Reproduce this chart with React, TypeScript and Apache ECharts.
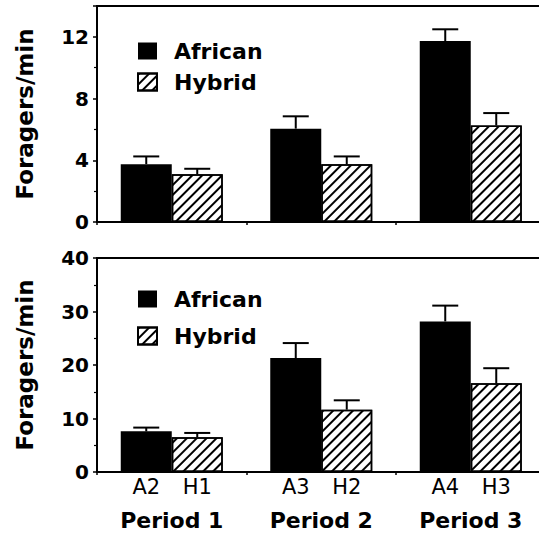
import React, { useEffect, useRef } from "react";
import * as echarts from "echarts";

const periods = ["Period 1", "Period 2", "Period 3"];
const africanLabels = ["A2", "A3", "A4"];
const hybridLabels = ["H1", "H2", "H3"];

const topAfrican = [3.75, 6.05, 11.73];
const topAfricanErr = [0.5, 0.8, 0.76];
const topHybrid = [3.1, 3.75, 6.26];
const topHybridErr = [0.35, 0.5, 0.8];

const bottomAfrican = [7.6, 21.3, 28.15];
const bottomAfricanErr = [0.7, 2.8, 2.95];
const bottomHybrid = [6.5, 11.65, 16.6];
const bottomHybridErr = [0.8, 1.75, 2.8];

const topAxis = { min: 0, max: 14, interval: 4 };
const bottomAxis = { min: 0, max: 40, interval: 10 };

const BAR_W = 51;
const CAP_HALF = 13;

function errRenderer(side: number) {
  return (params: any, api: any) => {
    const i = api.value(0);
    const v = api.value(1);
    const e = api.value(2);
    const base = api.coord([i, v]);
    const top = api.coord([i, v + e]);
    const cx = base[0] + (side * BAR_W) / 2;
    return {
      type: "group",
      children: [
        {
          type: "line",
          shape: { x1: cx, y1: base[1], x2: cx, y2: top[1] },
          style: { stroke: "#000", lineWidth: 2 },
        },
        {
          type: "line",
          shape: { x1: cx - CAP_HALF, y1: top[1], x2: cx + CAP_HALF, y2: top[1] },
          style: { stroke: "#000", lineWidth: 2 },
        },
      ],
    };
  };
}

const hatch = {
  symbol: "rect",
  symbolSize: 1,
  color: "#000",
  dashArrayX: [1, 0],
  dashArrayY: [1.4, 4.6],
  rotation: -Math.PI / 4,
};

function yAxisCfg(gridIndex: number, ax: any) {
  return {
    type: "value",
    gridIndex,
    min: ax.min,
    max: ax.max,
    interval: ax.interval,
    name: "Foragers/min",
    nameLocation: "middle",
    nameGap: 61,
    nameTextStyle: {
      fontFamily: "DejaVu Sans",
      fontWeight: "bold",
      fontSize: 23,
      color: "#000",
    },
    axisLine: { show: true, lineStyle: { color: "#000", width: 2 } },
    axisTick: { show: true, length: 4, lineStyle: { color: "#000", width: 1.5 } },
    minorTick: { show: true, splitNumber: 2, length: 3, lineStyle: { color: "#000", width: 1.2 } },
    splitLine: { show: false },
    axisLabel: {
      showMaxLabel: gridIndex === 1,
      margin: 8,
      fontFamily: "DejaVu Sans",
      fontWeight: "bold",
      fontSize: 20,
      color: "#000",
    },
  };
}

function legendCfg(top: number, gap: number) {
  return {
    data: ["African", "Hybrid"],
    orient: "vertical",
    left: 132,
    top,
    itemWidth: 19,
    itemHeight: 17,
    itemGap: gap,
    icon: "rect",
    selectedMode: false,
    formatter: "{t|{name}}",
    textStyle: {
      rich: {
        t: {
          fontFamily: "DejaVu Sans",
          fontWeight: "bold",
          fontSize: 22,
          color: "#000",
          padding: [0, 0, 0, 12],
        },
      },
    },
  };
}

export default function App() {
  const ref = useRef<HTMLDivElement>(null);
  useEffect(() => {
    if (!ref.current) return;
    const chart = echarts.init(ref.current, undefined, { renderer: "svg" });
    const grids = [
      { left: 97, top: 6, width: 448.5, height: 216 },
      { left: 97, top: 258, width: 448.5, height: 214 },
    ].map((g) => ({ ...g, show: true, borderColor: "#000", borderWidth: 2 }));

    const xBase = {
      type: "category",
      data: periods,
      boundaryGap: true,
      axisLine: { show: true, lineStyle: { color: "#000", width: 2 } },
      axisTick: { show: true, length: 3, alignWithLabel: false, lineStyle: { color: "#000", width: 1.5 } },
      splitLine: { show: false },
    };

    const option: any = {
      animation: false,
      backgroundColor: "#fff",
      grid: grids,
      legend: [legendCfg(35, 9), legendCfg(283, 15)],
      xAxis: [
        { ...xBase, gridIndex: 0, axisLabel: { show: false } },
        {
          ...xBase,
          gridIndex: 1,
          axisLabel: {
            margin: 2,
            interval: 0,
            formatter: (value: string, index: number) =>
              `{a|${africanLabels[index]}}{h|${hybridLabels[index]}}\n{p|${value}}`,
            rich: {
              a: { width: BAR_W, align: "center", fontFamily: "DejaVu Sans", fontSize: 21, lineHeight: 26, color: "#000" },
              h: { width: BAR_W, align: "center", fontFamily: "DejaVu Sans", fontSize: 21, lineHeight: 26, color: "#000" },
              p: { align: "center", fontFamily: "DejaVu Sans", fontWeight: "bold", fontSize: 22, lineHeight: 40, color: "#000" },
            },
          },
        },
      ],
      yAxis: [yAxisCfg(0, topAxis), yAxisCfg(1, bottomAxis)],
      series: [
        {
          type: "bar",
          name: "African",
          xAxisIndex: 0,
          yAxisIndex: 0,
          data: topAfrican,
          barWidth: BAR_W,
          barGap: "0%",
          itemStyle: { color: "#000" },
        },
        {
          type: "bar",
          name: "Hybrid",
          xAxisIndex: 0,
          yAxisIndex: 0,
          data: topHybrid,
          barWidth: BAR_W,
          barGap: "0%",
          itemStyle: { color: "#fff", borderColor: "#000", borderWidth: 1.5, decal: hatch },
        },
        {
          type: "bar",
          name: "African",
          xAxisIndex: 1,
          yAxisIndex: 1,
          data: bottomAfrican,
          barWidth: BAR_W,
          barGap: "0%",
          itemStyle: { color: "#000" },
        },
        {
          type: "bar",
          name: "Hybrid",
          xAxisIndex: 1,
          yAxisIndex: 1,
          data: bottomHybrid,
          barWidth: BAR_W,
          barGap: "0%",
          itemStyle: { color: "#fff", borderColor: "#000", borderWidth: 1.5, decal: hatch },
        },
        {
          type: "custom",
          name: "errTA",
          xAxisIndex: 0,
          yAxisIndex: 0,
          data: topAfrican.map((v, i) => [i, v, topAfricanErr[i]]),
          encode: { x: 0, y: 1 },
          renderItem: errRenderer(-1),
          z: 5,
        },
        {
          type: "custom",
          name: "errTH",
          xAxisIndex: 0,
          yAxisIndex: 0,
          data: topHybrid.map((v, i) => [i, v, topHybridErr[i]]),
          encode: { x: 0, y: 1 },
          renderItem: errRenderer(1),
          z: 5,
        },
        {
          type: "custom",
          name: "errBA",
          xAxisIndex: 1,
          yAxisIndex: 1,
          data: bottomAfrican.map((v, i) => [i, v, bottomAfricanErr[i]]),
          encode: { x: 0, y: 1 },
          renderItem: errRenderer(-1),
          z: 5,
        },
        {
          type: "custom",
          name: "errBH",
          xAxisIndex: 1,
          yAxisIndex: 1,
          data: bottomHybrid.map((v, i) => [i, v, bottomHybridErr[i]]),
          encode: { x: 0, y: 1 },
          renderItem: errRenderer(1),
          z: 5,
        },
      ],
    };
    chart.setOption(option);
    return () => chart.dispose();
  }, []);

  return (
    <div style={{ position: "fixed", left: 0, top: 0, width: 539, height: 533, overflow: "hidden", background: "#fff" }}>
      <div ref={ref} style={{ width: 560, height: 533 }} />
    </div>
  );
}
